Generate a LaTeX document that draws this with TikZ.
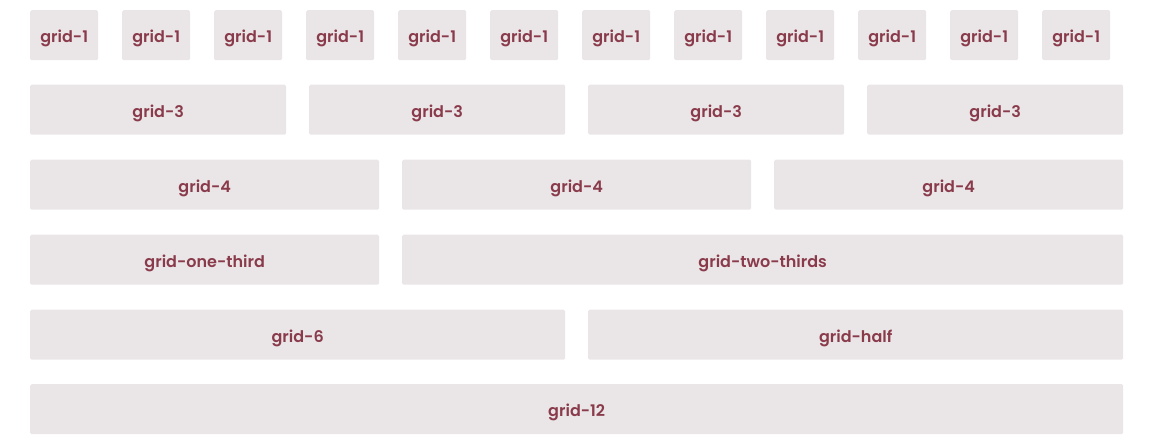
\documentclass[tikz,border=0pt]{standalone}
\usepackage{fontspec}
\newfontfamily\gridfont{Poppins}[UprightFont=* SemiBold]
\usetikzlibrary{positioning}
\definecolor{gridfill}{HTML}{EAE6E7}
\definecolor{gridtext}{HTML}{8A3B4B}
\tikzset{
  cell/.style={fill=gridfill,rounded corners=1.5pt,minimum height=50pt,inner sep=0pt,
               text height=15pt,text depth=0pt,anchor=north west,text=gridtext,
               font=\gridfont\fontsize{16}{16}\selectfont},
}

\begin{document}
\begin{tikzpicture}[x=1pt,y=-1pt]
\useasboundingbox (0,0) rectangle (1152,440);

% twelve single columns
\foreach \i in {1,...,12}
  \node[cell,minimum width=68pt] (g1-\i) at ({30+92*(\i-1)},10) {grid-1};

% quarters and thirds
\foreach \i in {1,...,4}
  \node[cell,minimum width=256pt] (g3-\i) at ({30+279*(\i-1)},84.5) {grid-3};
\foreach \i in {1,...,3}
  \node[cell,minimum width=349pt] (g4-\i) at ({30+372*(\i-1)},159.5) {grid-4};

\node[cell,minimum width=349pt] (third) at (30,234.5) {grid-one-third};
\node[cell,minimum width=721pt] (twothirds) at (402,234.5) {grid-two-thirds};

\node[cell,minimum width=535pt] (g6) at (30,309.5) {grid-6};
\node[cell,minimum width=535pt] (half) at (588,309.5) {grid-half};

\node[cell,minimum width=1093pt] (g12) at (30,384) {grid-12};

\end{tikzpicture}
\end{document}
